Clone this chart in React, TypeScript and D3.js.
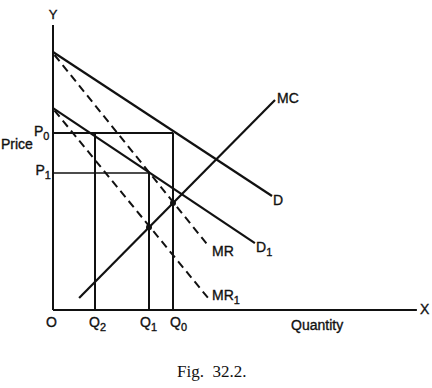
import React from "react";
import * as d3 from "d3";

// Curve endpoints in data units (quantity, price)
const demandD: [number, number][] = [[0, 8.6], [7.3, 3.8]];
const demandD1: [number, number][] = [[0, 6.73], [6.73, 2.23]];
const mrCurve: [number, number][] = [[0.05, 8.5], [5.13, 2.2]];
const mr1Curve: [number, number][] = [[0.05, 6.65], [5.17, 0.4]];
const mcCurve: [number, number][] = [[0.87, 0.4], [7.4, 7.0]];

const priceLevels = [{ name: "P0", value: 5.9 }, { name: "P1", value: 4.57 }];
const quantityLevels = [{ name: "Q2", value: 1.4, price: 5.9 }, { name: "Q1", value: 3.2, price: 4.57 }, { name: "Q0", value: 4.0, price: 5.9 }];
const equilibriumQ = [4.0, 3.2];

const W = 432, H = 388;
const x = d3.scaleLinear().domain([0, 12]).range([53, 413]);
const y = d3.scaleLinear().domain([0, 9.5]).range([310, 25]);

const line = d3.line<[number, number]>().x(d => x(d[0])).y(d => y(d[1]));

const mcAt = (q: number) => {
  const [[x0, y0], [x1, y1]] = mcCurve;
  return y0 + (y1 - y0) * (q - x0) / (x1 - x0);
};

const sans = "'Liberation Sans', Arial, Helvetica, sans-serif";
const ink = "#111";
const textStyle = { fontFamily: sans, fill: ink, stroke: ink, strokeWidth: 0.35 } as const;

function Label({ x: tx, y: ty, children, size = 14 }: { x: number; y: number; children: React.ReactNode; size?: number }) {
  return <text x={tx} y={ty} fontSize={size} {...textStyle}>{children}</text>;
}

function Sub({ x: tx, y: ty, main, sub, size = 14 }: { x: number; y: number; main: string; sub: string; size?: number }) {
  return (
    <text x={tx} y={ty} fontSize={size} {...textStyle}>
      {main}
      <tspan fontSize={size * 0.78} dy={4}>{sub}</tspan>
    </text>
  );
}

export default function App() {
  const stroke = ink;
  return (
    <svg width={W} height={H} style={{ position: "absolute", left: 0, top: 0, background: "#fff" }}>
      {/* axes */}
      <line x1={x(0)} y1={y(0)} x2={x(0)} y2={y(9.5)} stroke={stroke} strokeWidth={2} />
      <line x1={x(0)} y1={y(0)} x2={x(12.13)} y2={y(0)} stroke={stroke} strokeWidth={2} />

      {/* price & quantity guide lines */}
      <line x1={x(0)} y1={y(priceLevels[0].value)} x2={x(4.0)} y2={y(priceLevels[0].value)} stroke={stroke} strokeWidth={1.8} />
      <line x1={x(0)} y1={y(priceLevels[1].value)} x2={x(3.2)} y2={y(priceLevels[1].value)} stroke={stroke} strokeWidth={1.5} />
      {quantityLevels.map(q => (
        <line key={q.name} x1={x(q.value)} y1={y(0)} x2={x(q.value)} y2={y(q.price)} stroke={stroke} strokeWidth={2} />
      ))}

      {/* curves */}
      <path d={line(demandD) || ""} stroke={stroke} strokeWidth={2.2} fill="none" />
      <path d={line(demandD1) || ""} stroke={stroke} strokeWidth={2.2} fill="none" />
      <path d={line(mrCurve) || ""} stroke={stroke} strokeWidth={2} fill="none" strokeDasharray="8,5" />
      <path d={line(mr1Curve) || ""} stroke={stroke} strokeWidth={2} fill="none" strokeDasharray="8,5" />
      <path d={line(mcCurve) || ""} stroke={stroke} strokeWidth={2.2} fill="none" />

      {equilibriumQ.map(q => (
        <circle key={q} cx={x(q)} cy={y(mcAt(q))} r={3} fill={stroke} />
      ))}

      {/* labels */}
      <text x={x(0)} y={19} textAnchor="middle" fontSize={13} {...textStyle}>Y</text>
      <Label x={420} y={314}>X</Label>
      <Label x={1} y={149}>Price</Label>
      <Sub x={34} y={136} main="P" sub="0" />
      <Sub x={35.5} y={175} main="P" sub="1" />
      <Label x={46} y={327}>O</Label>
      <Sub x={89} y={327} main="Q" sub="2" />
      <Sub x={140} y={327} main="Q" sub="1" />
      <Sub x={170} y={327} main="Q" sub="0" />
      <Label x={291} y={330}>Quantity</Label>
      <Label x={277} y={103}>MC</Label>
      <Label x={273} y={205}>D</Label>
      <Sub x={256} y={252} main="D" sub="1" />
      <Label x={212} y={256}>MR</Label>
      <Sub x={212} y={300} main="MR" sub="1" />
      <text x={177} y={377} fontFamily="'Liberation Serif', 'Times New Roman', serif" fontSize={17} fill={ink} style={{ whiteSpace: "pre" }}>{"Fig.  32.2."}</text>
    </svg>
  );
}
